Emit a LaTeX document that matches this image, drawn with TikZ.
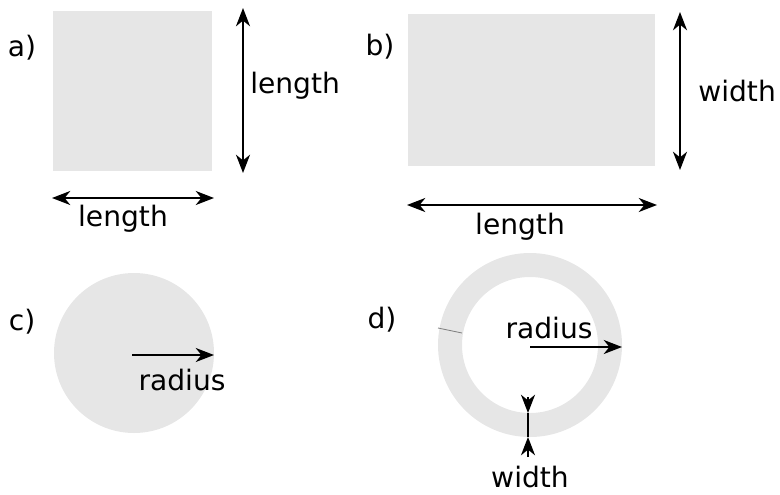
\documentclass[tikz,border=0pt]{standalone}
\usepackage{fontspec}
\setmainfont{DejaVu Sans}
\usetikzlibrary{arrows.meta}
\usetikzlibrary{positioning}
\definecolor{shapegray}{HTML}{E6E6E6}
\tikzset{
  dimline/.style={{Stealth[length=13pt,width=10pt,inset=4pt]}-{Stealth[length=13pt,width=10pt,inset=4pt]}, line width=1.1pt},
  radline/.style={-{Stealth[length=13pt,width=10pt,inset=4pt]}, line width=1.1pt},
  lbl/.style={font=\fontsize{20}{24}\selectfont, inner sep=0pt},
}

\begin{document}
\begin{tikzpicture}[x=0.025cm, y=0.025cm]
    \useasboundingbox (0,0) rectangle (780,-494);
     %shapes
     \fill[shapegray] (53,-11) rectangle (212,-171);
     \fill[shapegray] (408,-14) rectangle (655,-166);
     \fill[shapegray] (134,-353) circle (80);
     \fill[shapegray, even odd rule] (530,-345) circle (92) (530,-345) circle (68);
     \draw[gray, line width=0.6pt] (438,-328) -- (462,-333);

     %labels
     \node[lbl] (lbla) at (22,-48) {a)};
     \node[lbl] (lblb) at (380,-47) {b)};
     \node[lbl] (lblc) at (22,-322) {c)};
     \node[lbl] (lbld) at (382,-320) {d)};
     \node[lbl, anchor=west] (asidev) at (250,-86) {length};
     \node[lbl] (asideh) at (123,-219) {length};
     \node[lbl, anchor=west] (bwidth) at (698,-91) {width};
     \node[lbl] (blength) at (520,-227) {length};
     \node[lbl] (cradius) at (182,-380) {radius};
     \node[lbl] (dradius) at (549,-328) {radius};
     \node[lbl] (dwidth) at (530,-477) {width};

     %arrow ends
     \coordinate (avtop) at (243,-8);
     \coordinate (avbot) at (243,-173);
     \coordinate (ahl) at (52,-198);
     \coordinate (ahr) at (214,-198);
     \coordinate (bvtop) at (680,-12);
     \coordinate (bvbot) at (680,-170);
     \coordinate (bhl) at (407,-205);
     \coordinate (bhr) at (657,-205);
     \coordinate (ccen) at (132,-355);
     \coordinate (cedge) at (214,-355);
     \coordinate (dcen) at (530,-347);
     \coordinate (dedge) at (622,-347);
     \coordinate (dwtop) at (528,-397);
     \coordinate (dwin) at (528,-413);
     \coordinate (dwout) at (528,-437);
     \coordinate (dwbot) at (528,-457);

    \draw[dimline] (avtop) -- (avbot);
    \draw[dimline] (ahl) -- (ahr);
    \draw[dimline] (bvtop) -- (bvbot);
    \draw[dimline] (bhl) -- (bhr);
    \draw[radline] (ccen) -- (cedge);
    \draw[radline] (dcen) -- (dedge);
    \draw[line width=1.1pt] (dwin) -- (dwout);
    \draw[radline] (dwtop) -- (dwin);
    \draw[radline] (dwbot) -- (dwout);
\end{tikzpicture}
\end{document}
